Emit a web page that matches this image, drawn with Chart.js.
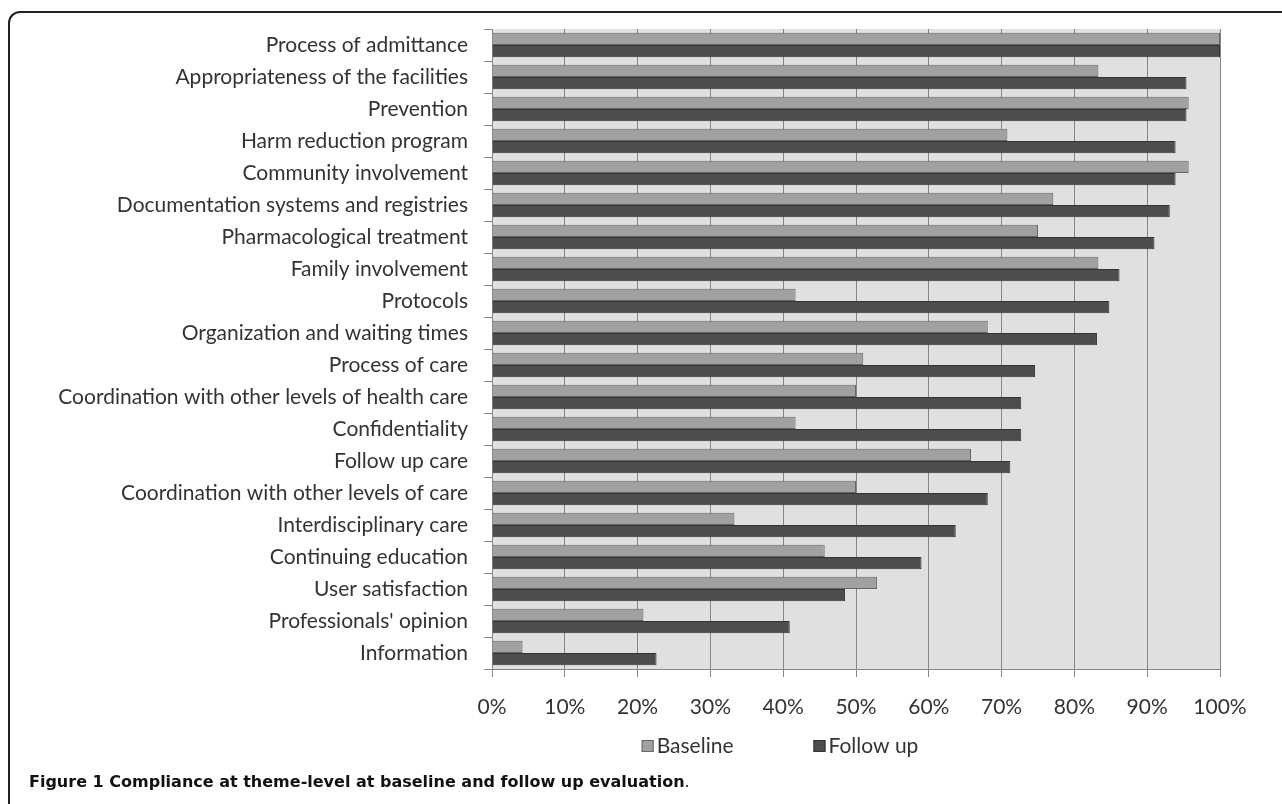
<!DOCTYPE html>
<html>
<head>
<meta charset="utf-8">
<script src="https://cdn.jsdelivr.net/npm/chart.js@4/dist/chart.umd.min.js"></script>
<style>
  html, body { margin: 0; padding: 0; background: #fff; }
  body { width: 1282px; height: 804px; position: relative; overflow: hidden; }
  #frame {
    position: absolute; left: 8px; top: 11px; width: 1290px; height: 820px;
    border-left: 2px solid #222; border-top: 2px solid #222;
    border-top-left-radius: 12px; box-sizing: border-box;
  }
  #chartBox { position: absolute; left: 0; top: 0; width: 1282px; height: 804px; }
  #caption {
    position: absolute; left: 29px; top: 772px;
    font-family: "DejaVu Sans", sans-serif; font-size: 16px; color: #111;
    font-weight: bold; white-space: nowrap;
  }
  #caption span { font-weight: normal; }
</style>
</head>
<body>
<div id="frame"></div>
<div id="chartBox"><canvas id="complianceChart"></canvas></div>
<div id="caption">Figure 1 Compliance at theme-level at baseline and follow up evaluation<span>.</span></div>

<script>
// =========================
// 📊 DONNÉES
// =========================

const themes = [
  "Process of admittance",
  "Appropriateness of the facilities",
  "Prevention",
  "Harm reduction program",
  "Community involvement",
  "Documentation systems and registries",
  "Pharmacological treatment",
  "Family involvement",
  "Protocols",
  "Organization and waiting times",
  "Process of care",
  "Coordination with other levels of health care",
  "Confidentiality",
  "Follow up care",
  "Coordination with other levels of care",
  "Interdisciplinary care",
  "Continuing education",
  "User satisfaction",
  "Professionals' opinion",
  "Information",
];

const baseline = [100, 83.3, 95.7, 70.8, 95.7, 77.1, 75, 83.3, 41.7, 68.1, 51, 50, 41.7, 65.8, 50, 33.3, 45.7, 52.9, 20.8, 4.2];
const followUp = [100, 95.4, 95.4, 93.9, 93.9, 93.1, 91, 86.2, 84.8, 83.1, 74.6, 72.7, 72.7, 71.2, 68.1, 63.7, 59, 48.5, 40.9, 22.6];

const seriesNames = ["Baseline", "Follow up"];
const xTicks = [0, 10, 20, 30, 40, 50, 60, 70, 80, 90, 100];

// =========================
// 🎨 STYLE
// =========================

const FONT = "Lato";
const TEXT = "#333";
const GRID = "#868686";

// fond gris de la zone de tracé
const plotBackground = {
  id: "plotBackground",
  beforeDraw(chart) {
    const { ctx, chartArea: a } = chart;
    ctx.save();
    ctx.fillStyle = "#e0e0e0";
    ctx.fillRect(a.left, a.top, a.right - a.left, a.bottom - a.top);
    ctx.restore();
  },
};

// légende dessinée à la main (centrée sous le graphique comme dans Excel)
const bottomLegend = {
  id: "bottomLegend",
  afterDraw(chart) {
    const { ctx } = chart;
    const box = 12;
    const gap = 80;
    const centerX = 780;
    const y = 746;

    ctx.save();
    ctx.font = `21px ${FONT}`;
    ctx.textBaseline = "middle";

    const items = chart.data.datasets.map((ds) => ({
      label: ds.label,
      fill: ds.backgroundColor,
      stroke: ds.borderColor,
      w: box + 3 + ctx.measureText(ds.label).width,
    }));
    const total = items.reduce((s, it) => s + it.w, 0) + gap * (items.length - 1);

    let x = centerX - total / 2;
    items.forEach((it) => {
      ctx.fillStyle = it.fill;
      ctx.fillRect(x, y - box / 2, box, box);
      ctx.strokeStyle = it.stroke;
      ctx.lineWidth = 1;
      ctx.strokeRect(x + 0.5, y - box / 2 + 0.5, box - 1, box - 1);
      ctx.fillStyle = TEXT;
      ctx.fillText(it.label, x + box + 3, y);
      x += it.w + gap;
    });
    ctx.restore();
  },
};

// =========================
// 📈 GRAPHIQUE
// =========================

function renderComplianceChart() {
  const canvas = document.getElementById("complianceChart");
  if (!canvas) return;

  new Chart(canvas.getContext("2d"), {
    type: "bar",
    data: {
      labels: themes,
      datasets: [
        {
          label: seriesNames[0],
          data: baseline,
          backgroundColor: "#a1a1a1",
          borderColor: "#666",
          borderWidth: 1,
        },
        {
          label: seriesNames[1],
          data: followUp,
          backgroundColor: "#4d4d4d",
          borderColor: "#333",
          borderWidth: 1,
        },
      ],
    },
    options: {
      indexAxis: "y",
      responsive: true,
      maintainAspectRatio: false,
      animation: false,
      devicePixelRatio: 1,
      layout: { padding: { top: 29, right: 62, left: 0, bottom: 0 } },
      datasets: { bar: { categoryPercentage: 0.77, barPercentage: 1.0 } },
      plugins: {
        legend: { display: false },
        tooltip: { enabled: false },
      },
      scales: {
        x: {
          min: 0,
          max: 100,
          afterBuildTicks(scale) {
            scale.ticks = xTicks.map((v) => ({ value: v }));
          },
          afterFit(scale) {
            scale.height = 804 - 669;
          },
          ticks: {
            color: TEXT,
            font: { family: FONT, size: 21 },
            padding: 18,
            maxRotation: 0,
            callback: (v) => v + "%",
          },
          grid: { color: GRID, lineWidth: 1, drawTicks: true, tickLength: 8, tickColor: GRID },
          border: { display: true, color: GRID },
        },
        y: {
          afterFit(scale) {
            scale.width = 492;
          },
          ticks: {
            color: TEXT,
            font: { family: FONT, size: 21 },
            padding: 16,
            autoSkip: false,
          },
          grid: { offset: true, drawOnChartArea: false, drawTicks: true, tickLength: 8, color: GRID },
          border: { display: true, color: GRID },
        },
      },
    },
    plugins: [plotBackground, bottomLegend],
  });
}

renderComplianceChart();
</script>
</body>
</html>
